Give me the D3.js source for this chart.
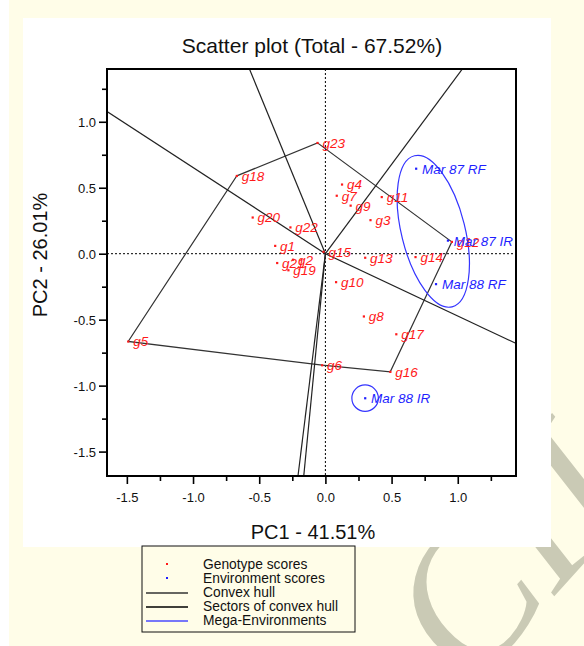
<!DOCTYPE html>
<html>
<head>
<meta charset="utf-8">
<script src="https://cdn.jsdelivr.net/npm/d3@7"></script>
<style>
  body { margin: 0; background: #fff; }
  text { font-family: "Liberation Sans", Arial, sans-serif; }
</style>
</head>
<body>
<div id="chart"></div>
<script>
// genotype scores (PC1, PC2)
const genotypes = ['g1','g2','g3','g4','g5','g6','g7','g8','g9','g10','g11','g12',
                   'g13','g14','g15','g16','g17','g18','g19','g20','g21','g22','g23'];
const genoPC1 = [-0.38, -0.245, 0.34, 0.125, -1.49, -0.025, 0.085, 0.29, 0.19, 0.08, 0.425, 0.955,
                 0.30, 0.68, -0.015, 0.49, 0.535, -0.67, -0.28, -0.55, -0.365, -0.265, -0.06];
const genoPC2 = [0.06, -0.045, 0.255, 0.525, -0.665, -0.845, 0.44, -0.475, 0.365, -0.215, 0.43, 0.09,
                 -0.03, -0.025, 0.015, -0.895, -0.61, 0.59, -0.125, 0.275, -0.07, 0.20, 0.84];

// environment scores
const envNames = ['Mar 87 RF', 'Mar 87 IR', 'Mar 88 RF', 'Mar 88 IR'];
const envPC1 = [0.685, 0.925, 0.835, 0.30];
const envPC2 = [0.645, 0.10, -0.23, -1.095];

// convex hull vertices, in order
const hullOrder = ['g18', 'g23', 'g12', 'g16', 'g6', 'g5'];

// mega-environments (ellipses)
const megaCx = [0.815, 0.30];
const megaCy = [0.17, -1.095];
const megaRx = [0.24, 0.10];
const megaRy = [0.59, 0.10];
const megaTilt = [-14, 0];

const xTicks = [-1.5, -1.0, -0.5, 0.0, 0.5, 1.0];
const xMinor = [-1.25, -0.75, -0.25, 0.25, 0.75, 1.25];
const yTicks = [-1.5, -1.0, -0.5, 0.0, 0.5, 1.0];
const yMinor = [-1.25, -0.75, -0.25, 0.25, 0.75, 1.25];

const legendLabels = ['Genotype scores', 'Environment scores', 'Convex hull',
                      'Sectors of convex hull', 'Mega-Environments'];

const W = 584, H = 646;
const RED = '#ff1a1a', BLUE = '#1f1fff';
const frame = { left: 107, right: 516, top: 69, bottom: 476 };

const svg = d3.select('#chart').append('svg')
    .attr('width', W).attr('height', H);

// page background, watermark and white panel
svg.append('rect').attr('x', 9).attr('y', 0).attr('width', W - 9).attr('height', H)
    .attr('fill', '#fffde8');
svg.append('text').attr('transform', 'translate(470,690) rotate(-48)')
    .style('font-family', '"Liberation Serif", serif').style('font-style', 'italic')
    .attr('font-size', 190).attr('fill', '#cacab5').text('CII');
svg.append('rect').attr('x', 23).attr('y', 18).attr('width', 528).attr('height', 529)
    .attr('fill', '#fff');

const x = d3.scaleLinear().domain([-1.65, 1.44]).range([frame.left, frame.right]);
const y = d3.scaleLinear().domain([-1.685, 1.40]).range([frame.bottom, frame.top]);

svg.append('defs').append('clipPath').attr('id', 'clip')
  .append('rect').attr('x', frame.left).attr('y', frame.top)
    .attr('width', frame.right - frame.left).attr('height', frame.bottom - frame.top);

const plot = svg.append('g').attr('clip-path', 'url(#clip)');

// dotted zero lines
plot.append('line').attr('x1', x(0)).attr('x2', x(0)).attr('y1', frame.top).attr('y2', frame.bottom)
    .attr('stroke', '#000').attr('stroke-dasharray', '2,2');
plot.append('line').attr('x1', frame.left).attr('x2', frame.right).attr('y1', y(0)).attr('y2', y(0))
    .attr('stroke', '#000').attr('stroke-dasharray', '2,2');

// convex hull
const hullPts = hullOrder.map(n => {
  const i = genotypes.indexOf(n);
  return [genoPC1[i], genoPC2[i]];
});
plot.append('path')
    .attr('d', d3.line().x(d => x(d[0])).y(d => y(d[1])).curve(d3.curveLinearClosed)(hullPts))
    .attr('fill', 'none').attr('stroke', '#333').attr('stroke-width', 1.2);

// sectors: rays from origin perpendicular to each hull edge
hullPts.forEach((a, i) => {
  const b = hullPts[(i + 1) % hullPts.length];
  const dx = b[0] - a[0], dy = b[1] - a[1];
  const t = -(a[0] * dx + a[1] * dy) / (dx * dx + dy * dy);
  const fx = a[0] + t * dx, fy = a[1] + t * dy;
  const len = Math.hypot(fx, fy);
  plot.append('line')
      .attr('x1', x(0)).attr('y1', y(0))
      .attr('x2', x(fx / len * 6)).attr('y2', y(fy / len * 6))
      .attr('stroke', '#222').attr('stroke-width', 1.2);
});

// mega-environments
megaCx.forEach((cx, i) => {
  const px = x(cx), py = y(megaCy[i]);
  plot.append('ellipse')
      .attr('cx', px).attr('cy', py)
      .attr('rx', x(megaRx[i]) - x(0)).attr('ry', y(0) - y(megaRy[i]))
      .attr('transform', `rotate(${megaTilt[i]},${px},${py})`)
      .attr('fill', 'none').attr('stroke', '#3434ff').attr('stroke-width', 1.2);
});

// genotype points and labels
genotypes.forEach((g, i) => {
  plot.append('rect').attr('x', x(genoPC1[i]) - 1).attr('y', y(genoPC2[i]) - 1)
      .attr('width', 2.2).attr('height', 2.2).attr('fill', RED);
  plot.append('text').attr('x', x(genoPC1[i]) + 5).attr('y', y(genoPC2[i]) + 5)
      .attr('font-size', 13.5).attr('font-style', 'italic').attr('fill', RED).text(g);
});

// environment points and labels
envNames.forEach((e, i) => {
  plot.append('rect').attr('x', x(envPC1[i]) - 1).attr('y', y(envPC2[i]) - 1)
      .attr('width', 2.2).attr('height', 2.2).attr('fill', BLUE);
  plot.append('text').attr('x', x(envPC1[i]) + 6).attr('y', y(envPC2[i]) + 5)
      .attr('font-size', 13.5).attr('font-style', 'italic').attr('fill', BLUE).text(e);
});

// axes
const fmt = d => d.toFixed(1);
const gx = svg.append('g').attr('transform', `translate(0,${frame.bottom})`);
gx.call(d3.axisBottom(x).tickValues(xTicks).tickSize(8).tickSizeOuter(0).tickFormat(fmt));
gx.append('g').call(d3.axisBottom(x).tickValues(xMinor).tickSize(5).tickSizeOuter(0).tickFormat(''));
const gy = svg.append('g').attr('transform', `translate(${frame.left},0)`);
gy.call(d3.axisLeft(y).tickValues(yTicks).tickSize(8).tickSizeOuter(0).tickFormat(fmt));
gy.append('g').call(d3.axisLeft(y).tickValues(yMinor).tickSize(5).tickSizeOuter(0).tickFormat(''));

svg.selectAll('.domain').remove();
svg.selectAll('.tick line').attr('stroke', '#000').attr('stroke-width', 1.6);
svg.selectAll('.tick text').attr('font-size', 13).attr('fill', '#111')
    .style('font-family', '"Liberation Sans", Arial, sans-serif');
gx.selectAll('.tick text').attr('dy', null).attr('y', 26);
gy.selectAll('.tick text').attr('x', -11).attr('dy', '0.35em');

svg.append('rect').attr('x', frame.left).attr('y', frame.top)
    .attr('width', frame.right - frame.left).attr('height', frame.bottom - frame.top)
    .attr('fill', 'none').attr('stroke', '#000').attr('stroke-width', 2);

// titles
svg.append('text').attr('x', 312).attr('y', 53).attr('text-anchor', 'middle')
    .attr('font-size', 21).attr('fill', '#111').text('Scatter plot (Total - 67.52%)');
svg.append('text').attr('x', 313).attr('y', 539).attr('text-anchor', 'middle')
    .attr('font-size', 20).attr('fill', '#111').text('PC1 - 41.51%');
svg.append('text').attr('transform', 'translate(47,255) rotate(-90)').attr('text-anchor', 'middle')
    .attr('font-size', 20).attr('fill', '#111').text('PC2 - 26.01%');

// legend
const leg = svg.append('g');
leg.append('rect').attr('x', 142).attr('y', 546).attr('width', 213).attr('height', 86)
    .attr('fill', '#fffde8').attr('stroke', '#111').attr('stroke-width', 1);
const rowY = i => 564 + i * 14;
legendLabels.forEach((lab, i) => {
  leg.append('text').attr('x', 203).attr('y', rowY(i) + 4.5)
      .attr('font-size', 13.8).attr('fill', '#111').text(lab);
});
leg.append('rect').attr('x', 166).attr('y', rowY(0) - 1).attr('width', 2).attr('height', 2).attr('fill', RED);
leg.append('rect').attr('x', 166).attr('y', rowY(1) - 1).attr('width', 2).attr('height', 2).attr('fill', BLUE);
['#333', '#000', '#4a4aff'].forEach((c, j) => {
  leg.append('line').attr('x1', 146).attr('x2', 188)
      .attr('y1', rowY(j + 2) + 1).attr('y2', rowY(j + 2) + 1)
      .attr('stroke', c).attr('stroke-width', 1.3);
});
</script>
</body>
</html>
